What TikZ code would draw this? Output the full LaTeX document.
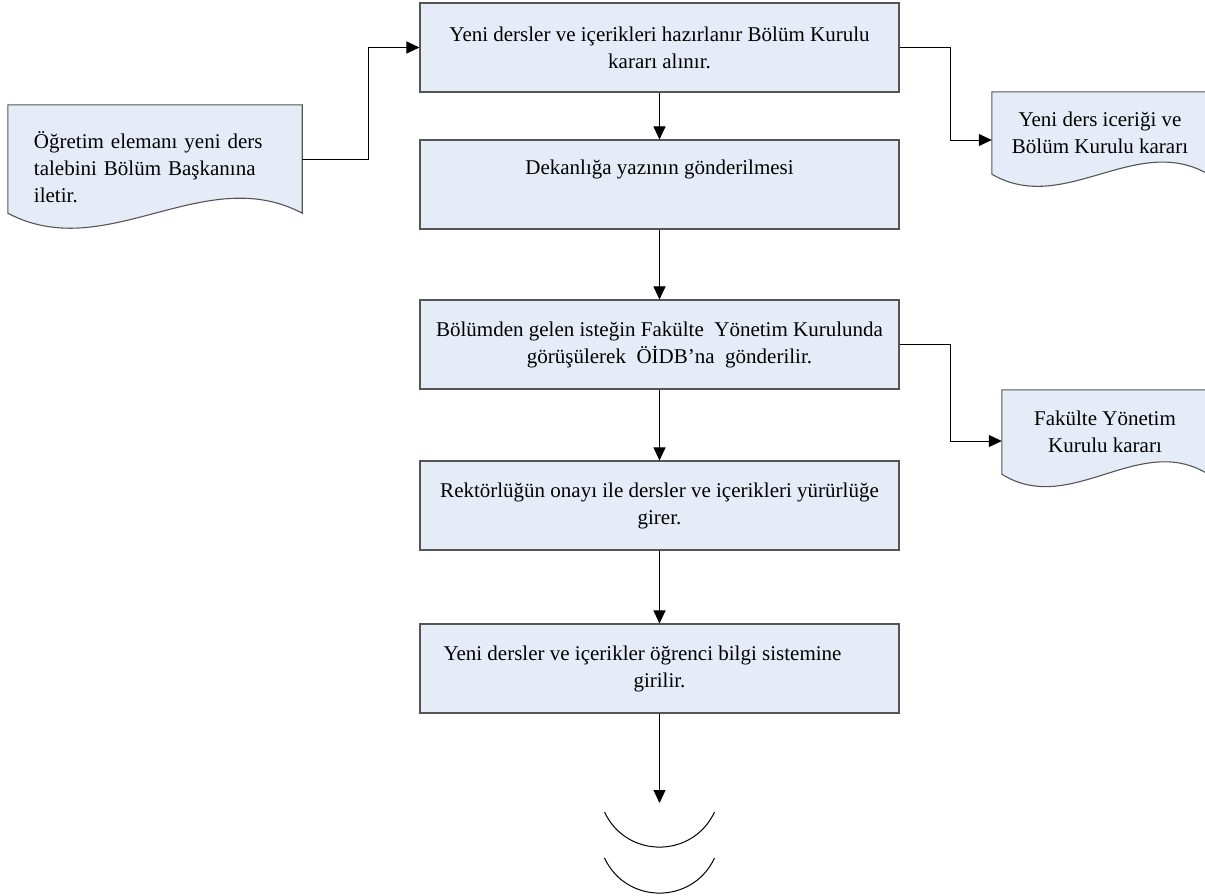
\documentclass[tikz,border=0pt]{standalone}
\usepackage{fontspec}
\setmainfont{Liberation Serif}
\usetikzlibrary{arrows.meta,calc,backgrounds}
\definecolor{boxblue}{RGB}{230,236,247}
\definecolor{boxline}{RGB}{85,85,85}
% document shape: straight sides, wavy bottom
\newcommand{\docwave}[2]{%
  \draw[docshape] (#1.north west) -- (#1.north east) -- (#1.south east)
    .. controls ($(#1.south east)!1/3!(#1.south west)+(0,-#2)$)
       and ($(#1.south east)!2/3!(#1.south west)+(0,#2)$) .. (#1.south west) -- cycle;}
\begin{document}
\begin{tikzpicture}[x=1pt, y=-1pt, node distance=160pt, font=\fontsize{21}{27}\selectfont]
        \tikzset{ block/.style={rectangle,draw=boxline,line width=1.1pt,fill=boxblue,minimum width=479pt,minimum height=89pt,align=center,inner sep=0pt},
                docnode/.style={rectangle,align=center,inner sep=0pt},
                docshape/.style={draw=boxline,line width=1.1pt,fill=boxblue},
                arrow/.style={-{Triangle[length=13pt,width=12pt]}, line width=1pt}}
        \useasboundingbox (0,0) rectangle (1205,895);

        \node[block] at (659.5,47.5) (hazir) {Yeni dersler ve içerikleri hazırlanır Bölüm Kurulu\\kararı alınır.};
        \node[block, below of = hazir, yshift=23pt] (dekan) {Dekanlığa yazının gönderilmesi\\\strut};
        \node[block, below of = dekan] (fyk) {Bölümden gelen isteğin Fakülte\ \ Yönetim Kurulunda\\\hspace*{20pt}görüşülerek\ \ ÖİDB’na\ \ gönderilir.};
        \node[block, below of = fyk, yshift=-1pt] (rektor) {Rektörlüğün onayı ile dersler ve içerikleri yürürlüğe\\girer.};
        \node[block, below of = rektor, yshift=-3pt] (obs) {Yeni dersler ve içerikler öğrenci bilgi sistemine\hspace*{34pt}\\girilir.};

        % belgeler
        \node[docnode, align=left, text width=242pt, inner xsep=26pt, minimum height=108pt] at (155,159) (talep) {\rule{0pt}{33pt}Öğretim elemanı yeni ders\\talebini Bölüm Başkanına\\iletir.};
        \node[docnode, minimum width=216pt, minimum height=82pt] at (1100,133) (bkkarar) {Yeni ders iceriği ve\\Bölüm Kurulu kararı};
        \node[docnode, minimum width=206pt, minimum height=84pt] at (1105,432) (fykkarar) {Fakülte Yönetim\\Kurulu kararı};
        \begin{scope}[on background layer]
                \docwave{talep}{52}
                \docwave{bkkarar}{42}
                \docwave{fykkarar}{43}
        \end{scope}

        % Oklar
        \draw[arrow] (talep.east) -- ++(66,0) |- (hazir.west);
        \draw[arrow] (hazir.east) -- ++(51,0) |- ([yshift=-7pt]bkkarar.west);
        \draw[arrow] (fyk.east) -- ++(51,0) |- ([yshift=-9pt]fykkarar.west);
        \draw[arrow] (hazir) -- (dekan);
        \draw[arrow] (dekan) -- (fyk);
        \draw[arrow] (fyk) -- (rektor);
        \draw[arrow] (rektor) -- (obs);
        \coordinate (devam) at (659.5,803);
        \draw[arrow] (obs) -- (devam);

        % sayfa bağlantısı
        \draw[line width=1pt] (604.5,812) .. controls (626.3,858.8) and (692.7,858.8) .. (714.5,812);
        \draw[line width=1pt] (604.5,858) .. controls (626.3,904.8) and (692.7,904.8) .. (714.5,858);
\end{tikzpicture}
\end{document}
